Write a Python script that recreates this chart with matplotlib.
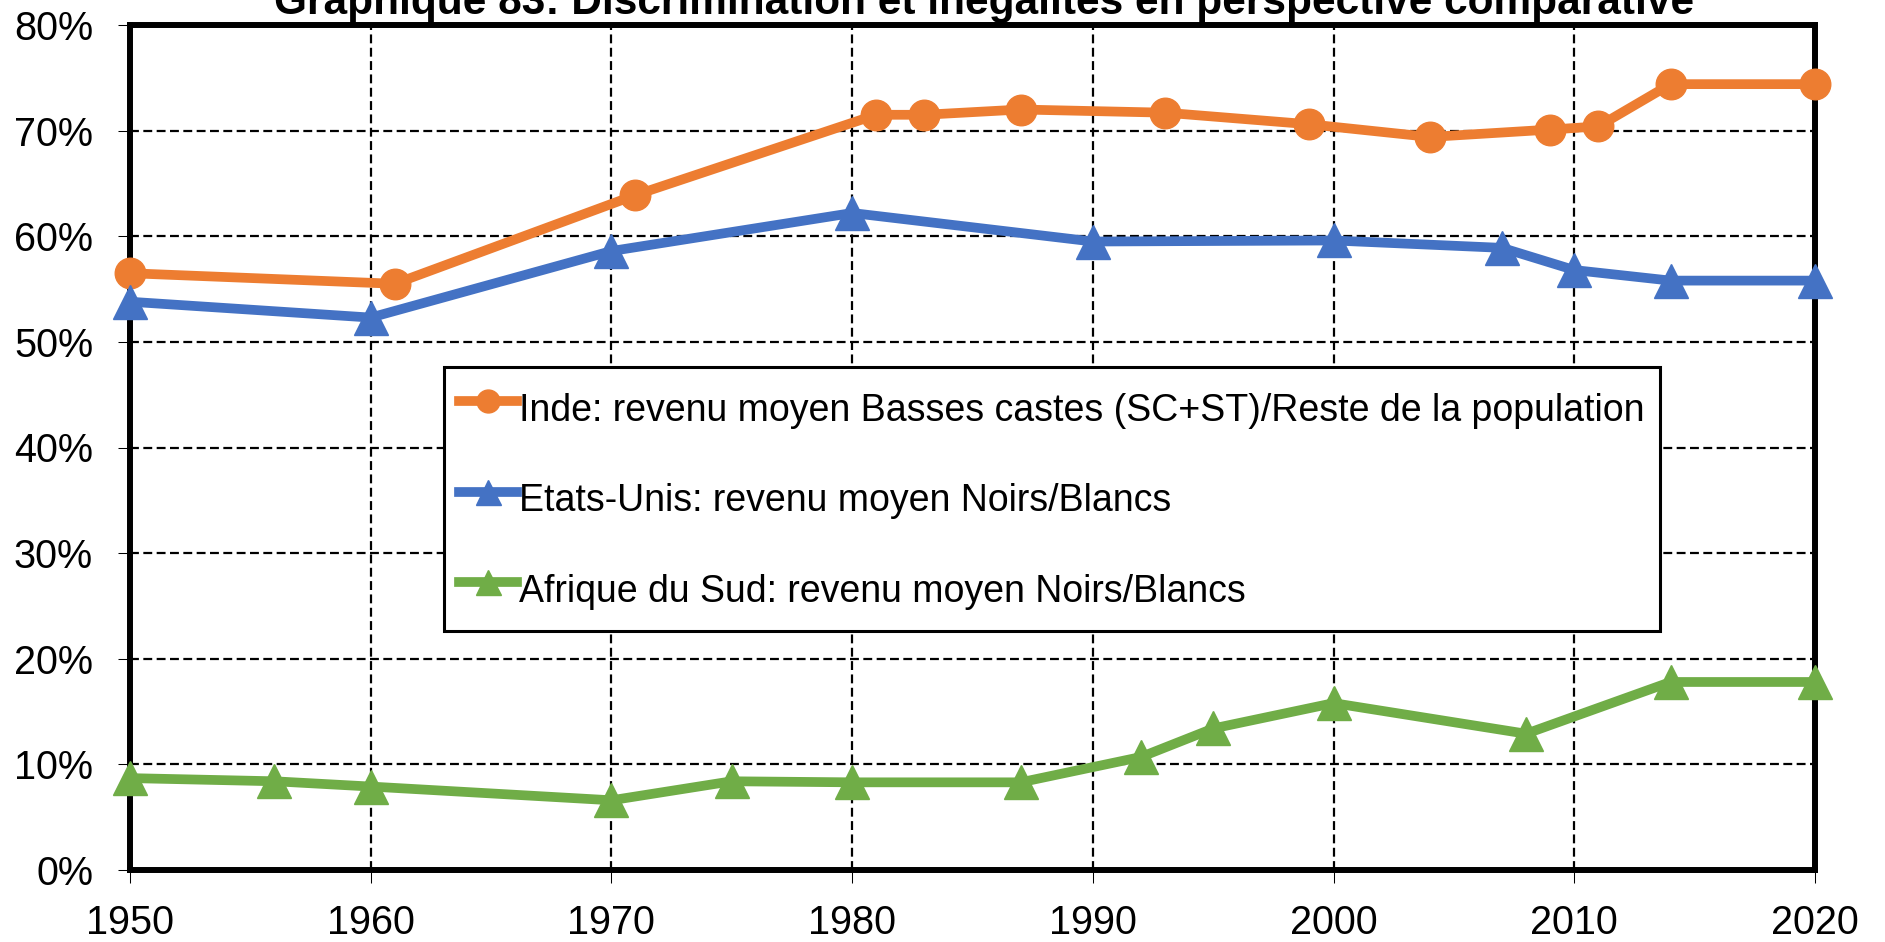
import matplotlib
matplotlib.use("Agg")
import matplotlib.pyplot as plt
from matplotlib.ticker import MultipleLocator, PercentFormatter

plt.rcParams["font.family"] = ["Liberation Sans", "DejaVu Sans"]

# Inde: revenu moyen basses castes / reste de la population
inde_years = [1950, 1961, 1971, 1981, 1983, 1987, 1993, 1999, 2004, 2009, 2011, 2014, 2020]
inde_vals = [0.565, 0.555, 0.639, 0.715, 0.715, 0.720, 0.717, 0.706, 0.694, 0.701, 0.704, 0.744, 0.744]

# Etats-Unis: noirs / blancs
usa_years = [1950, 1960, 1970, 1980, 1990, 2000, 2007, 2010, 2014, 2020]
usa_vals = [0.538, 0.523, 0.586, 0.622, 0.595, 0.596, 0.589, 0.568, 0.558, 0.558]

# Afrique du Sud: noirs / blancs
rsa_years = [1950, 1956, 1960, 1970, 1975, 1980, 1987, 1992, 1995, 2000, 2008, 2014, 2020]
rsa_vals = [0.087, 0.084, 0.079, 0.066, 0.084, 0.083, 0.083, 0.107, 0.134, 0.158, 0.129, 0.178, 0.178]

labels = [
    "Inde: revenu moyen Basses castes (SC+ST)/Reste de la population",
    "Etats-Unis: revenu moyen Noirs/Blancs",
    "Afrique du Sud: revenu moyen Noirs/Blancs",
]
title = "Graphique 83: Discrimination et inégalités en perspective comparative"

fig = plt.figure(figsize=(18.85, 9.42), dpi=100)
ax = fig.add_axes([130 / 1885, 72 / 942, 1685 / 1885, 845 / 942])

lw = 7.0
ax.plot(inde_years, inde_vals, color="#ED7D31", lw=lw, marker="o", ms=22,
        label=labels[0], clip_on=False, zorder=5)
ax.plot(usa_years, usa_vals, color="#4472C4", lw=lw, marker="^", ms=24,
        label=labels[1], clip_on=False, zorder=5)
ax.plot(rsa_years, rsa_vals, color="#70AD47", lw=lw, marker="^", ms=24,
        label=labels[2], clip_on=False, zorder=5)

ax.set_xlim(1950, 2020)
ax.set_ylim(0, 0.8)
ax.xaxis.set_major_locator(MultipleLocator(10))
ax.yaxis.set_major_locator(MultipleLocator(0.1))
ax.yaxis.set_major_formatter(PercentFormatter(1.0, decimals=0))

ax.grid(True, color="black", lw=1.6, linestyle=(0, (4, 2)), zorder=1)
ax.set_axisbelow(True)
for sp in ax.spines.values():
    sp.set_linewidth(4.3)
    sp.set_zorder(4)

ax.tick_params(axis="both", labelsize=28.5, width=0.75, color="black")
ax.tick_params(axis="y", length=8.6, pad=18)
ax.tick_params(axis="x", length=9.4, pad=15)

leg = ax.legend(loc="upper left", bbox_to_anchor=(0.1864, 0.5953), borderaxespad=0,
                fontsize=27, frameon=True, fancybox=False, edgecolor="black",
                framealpha=1, borderpad=0.4, handlelength=1.55, handletextpad=0.05,
                handleheight=1.8, labelspacing=1.0, markerscale=0.75)
leg.get_frame().set_linewidth(2.2)
leg.set_zorder(10)

fig.text(984 / 1885, 1 - 14 / 942, title, ha="center", va="baseline",
         fontsize=30.5, fontweight="bold")

fig.savefig("out.png", dpi=100)
